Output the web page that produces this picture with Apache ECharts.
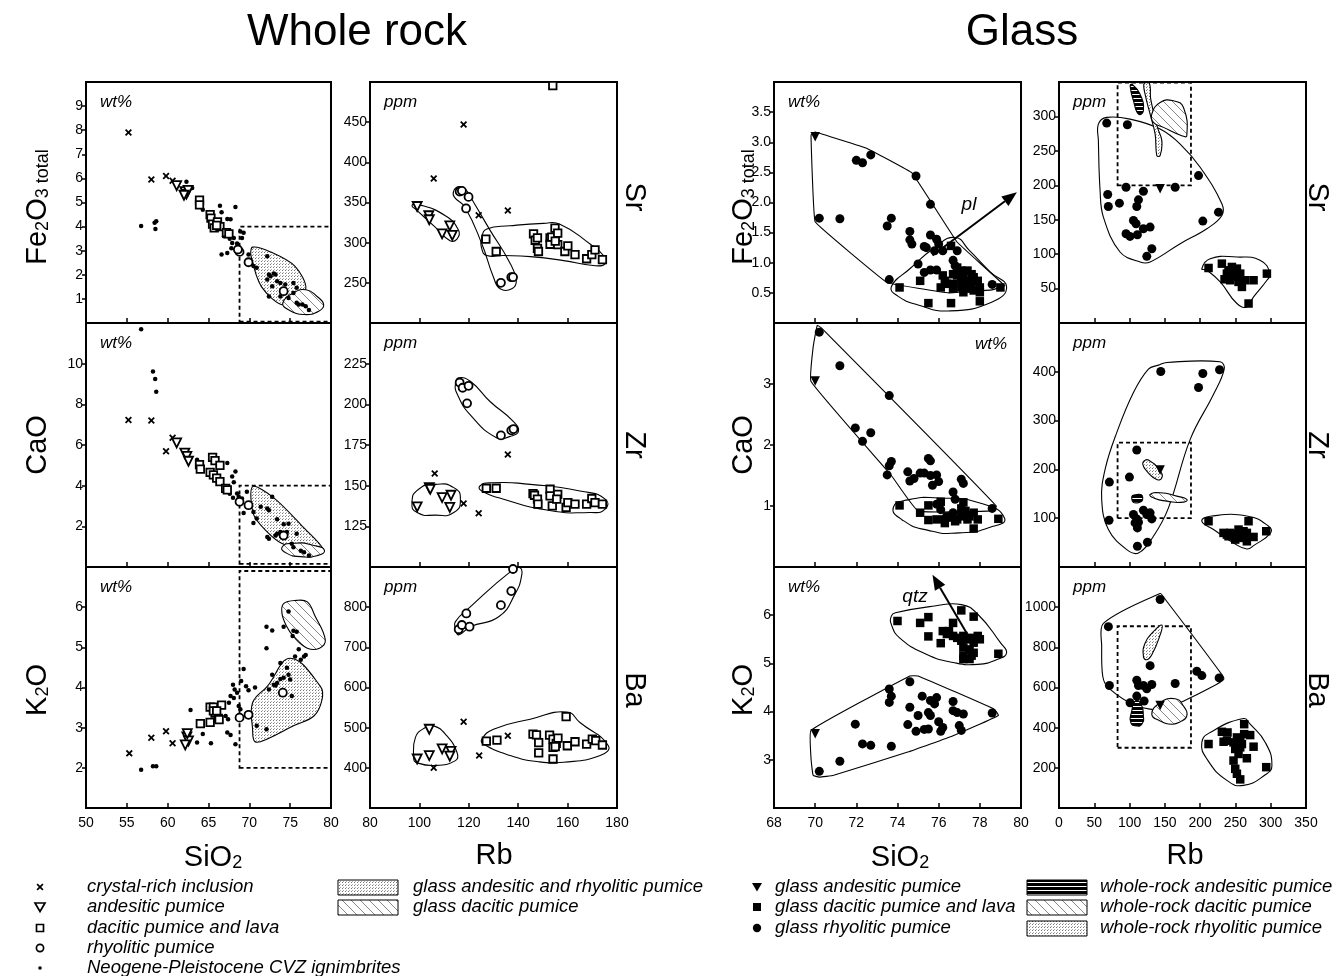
<!DOCTYPE html>
<html>
<head>
<meta charset="utf-8">
<title>Whole rock / Glass</title>
<script src="https://cdn.jsdelivr.net/npm/echarts@6/dist/echarts.min.js"></script>
<style>html,body{margin:0;background:#fff}#chart{width:1343px;height:976px}</style>
</head>
<body>
<div id="chart"></div>
<script>
// ---- whole rock, oxide vs SiO2 ----
const feSiCross = [[55.2,7.9],[58.0,5.95],[59.8,6.1],[60.6,5.9]];
const feSiTri = [[61.1,5.7],[62.1,5.45],[62.3,5.35],[62.5,5.5],[62.0,5.3]];
const feSiSq = [[63.9,5.1],[63.9,4.9],[65.2,4.5],[65.3,4.35],[65.5,4.1],[65.7,3.95],[66.1,4.2],[66.4,4.0],[67.2,3.75],[67.5,3.7],[66.0,4.05]];
const feSiCirc = [[68.8,2.95],[68.6,3.05],[69.9,2.52],[74.2,1.32]];
const feSiDot = [[56.75,4.02],[58.4,4.16],[58.6,4.22],[58.5,3.9],[62.3,5.86],[63.0,5.6],[64.3,4.7],[66.4,4.87],[66.6,4.6],[67.3,4.32],[67.7,4.3],[68.3,4.81],[67.3,2.9],[67.9,3.32],[68.1,3.53],[68.9,3.8],[69.3,3.74],[69.1,3.53],[69.9,2.84],[70.5,2.36],[70.9,2.29],[72.2,2.77],[72.4,2.01],[72.6,1.94],[73.0,2.05],[73.2,2.01],[72.2,1.8],[72.8,1.52],[73.4,1.73],[73.8,1.66],[74.4,1.6],[75.4,1.66],[75.8,1.46],[75.4,1.25],[74.8,1.04],[73.8,1.1],[72.4,1.1],[75.8,0.84],[76.05,0.77],[76.5,0.77],[76.9,0.7],[77.3,0.54],[66.6,2.84],[67.8,3.1],[68.5,3.3],[66.9,3.6],[67.6,3.5]];
const feSiStip = [[70.4,3.15],[72.6,2.95],[75.6,2.35],[76.9,1.4],[74.2,0.75],[71.5,1.5],[70.2,2.8]];
const feSiHatch = [[74.1,0.83],[75.4,1.25],[76.95,1.38],[78.3,1.1],[79.1,0.76],[78.5,0.49],[76.7,0.35],[74.8,0.55]];
const feSiBox = [[68.8,0.06],[80,0.06],[80,4],[68.8,4]];

const caSiCross = [[55.2,7.23],[58.0,7.21],[59.8,5.69],[60.6,6.36]];
const caSiTri = [[61.1,6.1],[62.1,5.6],[62.35,5.44],[62.55,5.2]];
const caSiSq = [[63.9,5.03],[64.0,4.81],[65.5,5.39],[65.8,5.23],[66.4,5.0],[65.2,4.65],[65.6,4.53],[66.0,4.37],[66.4,4.2],[67.1,3.87],[67.3,3.79]];
const caSiCirc = [[68.8,3.21],[69.9,3.04],[74.2,1.55]];
const caSiDot = [[56.75,11.69],[58.2,9.62],[58.47,9.25],[58.6,8.62],[63.6,5.28],[67.3,5.11],[68.3,4.7],[67.9,4.45],[68.1,4.17],[66.6,4.12],[68.5,3.62],[68.7,3.46],[69.1,3.37],[69.3,2.66],[70.5,2.16],[69.7,3.7],[70.5,2.71],[71.4,2.96],[72.2,2.88],[72.4,2.79],[72.8,3.45],[72.2,1.47],[72.4,1.39],[73.2,1.55],[73.4,1.63],[73.8,1.72],[74.2,2.1],[74.8,2.13],[74.6,1.72],[75.2,1.14],[75.8,1.63],[75.4,0.97],[76.3,0.8],[76.7,0.72],[77.3,0.56],[73.4,2.35],[70.9,2.38],[67.6,3.6],[68.0,3.4]];
const caSiStip = [[70.4,3.95],[73.0,3.4],[76.5,2.0],[79.0,0.9],[77.5,0.8],[74.0,1.15],[72.0,1.8],[70.5,2.6]];
const caSiHatch = [[74.0,0.97],[75.4,1.17],[77.9,1.06],[79.2,0.81],[78.3,0.56],[76.3,0.51],[74.6,0.67]];
const caSiBox = [[68.8,0.15],[80,0.15],[80,4],[68.8,4]];

const kSiCross = [[55.3,2.36],[58.0,2.75],[59.8,2.91],[60.6,2.61]];
const kSiTri = [[62.35,2.77],[62.55,2.67],[62.15,2.57],[62.4,2.85]];
const kSiSq = [[64.0,3.1],[65.2,3.13],[65.2,3.51],[65.6,3.51],[65.8,3.36],[66.2,3.23],[66.6,3.56],[65.6,3.42],[66.0,3.42],[66.3,3.2]];
const kSiCirc = [[68.8,3.25],[69.9,3.32],[74.1,3.87]];
const kSiDot = [[56.75,1.95],[58.2,2.04],[58.6,2.04],[62.8,3.44],[63.6,2.63],[64.3,2.84],[65.3,2.61],[67.3,2.88],[67.7,2.82],[68.3,2.59],[68.0,4.07],[68.2,3.95],[67.7,3.79],[67.5,3.62],[68.1,3.74],[68.5,3.87],[68.7,3.54],[68.9,3.46],[67.1,3.29],[67.4,3.21],[69.3,4.46],[69.0,4.16],[69.6,4.03],[69.9,3.93],[70.7,4.0],[70.9,3.05],[72.1,2.96],[72.1,5.51],[72.8,5.42],[72.1,4.98],[74.2,5.51],[74.8,5.89],[75.4,5.41],[75.8,5.39],[75.3,5.28],[76.05,4.95],[75.6,4.77],[76.3,4.69],[76.7,4.77],[76.9,4.81],[73.8,4.61],[72.8,4.32],[73.0,4.07],[73.4,4.11],[73.8,4.21],[74.2,4.24],[74.6,4.49],[74.8,4.32],[75.0,4.2],[75.2,3.79],[73.2,4.05],[72.4,3.95]];
const kSiStip = [[75.0,4.73],[78.7,4.03],[78.9,3.7],[77.9,3.29],[75.4,3.05],[72.2,2.72],[70.7,2.65],[70.4,2.96],[70.4,3.62],[72.2,4.03]];
const kSiHatch = [[74.2,6.09],[75.8,6.17],[77.1,6.13],[78.0,5.8],[79.3,5.19],[78.6,4.98],[77.1,4.98],[75.4,5.27],[74.6,5.51],[74.0,5.84]];
const kSiBox = [[68.8,2],[80,2],[80,6.9],[68.8,6.9]];

// ---- whole rock, trace element vs Rb ----
const srRbCross = [[105.8,380],[117.9,447],[124.0,334],[135.8,340]];
const srRbTri = [[99.1,345],[103.8,333.5],[104.0,328.5],[109.2,311],[112.3,321],[113.3,309]];
const srRbSq = [[126.9,304.5],[131.1,289],[154.0,495.5],[146.2,311],[146.9,303],[147.8,306],[147.8,293],[148.2,289],[152.9,306],[152.9,298],[153.6,307],[154.9,318],[156.0,312],[156.0,297.5],[158.9,289],[160.1,296],[163.0,285],[167.7,280],[169.8,285],[171.1,291],[174.1,279],[155.0,302]];
const srRbCirc = [[116.3,363.6],[117.2,364.5],[119.9,357],[118.9,342.6],[133.0,250],[137.2,257],[137.9,257]];
const srRbAnd = [[97.0,346],[99.1,348],[110.5,333.5],[115.9,315],[115.2,304.5],[112.4,302.5],[106.5,319],[99.1,340]];
const srRbRhy = [[113.9,364.5],[115.9,369.8],[118.6,366.5],[122.0,350],[128.7,315],[136.1,277.7],[139.2,253],[137.4,242.6],[132.7,242.6],[130.0,257],[125.3,298.3],[118.5,343.8],[114.1,357]];
const srRbDac = [[125.3,306.6],[127.3,317],[136.7,321],[150.2,324],[156.9,323],[169.1,298.3],[174.5,284],[175.2,273.6],[170.4,271.5],[158.4,277.7],[144.9,282.6],[134.1,284],[127.3,284],[125.3,292]];

const zrRbCross = [[106.2,157.5],[117.9,139],[124.0,133.1],[135.8,169.1]];
const zrRbTri = [[99.1,137],[104.0,148.8],[104.4,147.8],[109.2,142.7],[112.8,144.1],[112.3,136.6]];
const zrRbSq = [[127.1,148.4],[131.1,148.4],[146.0,145.1],[146.6,144.1],[147.8,141.7],[148.0,138.6],[152.9,147.8],[152.9,143.7],[153.8,137.6],[156.0,144.7],[155.6,141.7],[159.4,136.6],[160.1,139.6],[163.0,138.6],[167.7,138.6],[169.8,142.1],[171.1,139.6],[174.1,138.6]];
const zrRbCirc = [[116.3,213.4],[117.5,210.2],[119.9,211.4],[119.3,200.6],[133.0,180.9],[137.2,184],[138.1,184.8]];
const zrRbAnd = [[97,139.6],[99.7,147.8],[106.5,150.8],[113.9,148.8],[116.6,141.7],[113.9,133.5],[106.5,131.9],[99.1,133.5]];
const zrRbRhy = [[114.6,212.8],[115.9,216.3],[120.6,214.2],[128.7,201.6],[138.1,189.4],[140.1,183.3],[136.7,180.3],[131.4,179.3],[120.6,193.5],[115.2,206.7]];
const zrRbDac = [[124.5,149.8],[129.2,151.8],[144.9,150.8],[165.0,146.7],[175.2,141.7],[175.2,135.6],[169.1,133.5],[151.6,135],[134.1,141.7],[125.3,146.7]];

const baRbCross = [[105.8,400],[117.9,515],[124.2,430.5],[135.8,480]];
const baRbTri = [[99.1,422],[104.0,496],[104.0,430.5],[109.2,447],[112.8,441],[112.3,429]];
const baRbSq = [[127.1,466.7],[131.4,469],[146.0,484],[147.4,482],[148.3,463],[148.3,437],[152.7,481.5],[154.1,471.6],[154.1,451],[154.1,422],[155.4,461],[156.1,474],[155.0,452.7],[159.4,527.6],[159.9,455],[163.0,465],[167.7,459],[170.0,471.6],[171.4,467.5],[174.1,456.8]];
const baRbCirc = [[115.9,745],[117.2,755.6],[120.3,751.4],[119.0,784.4],[133.0,805],[137.2,840],[137.9,895]];
const baRbAnd = [[97.7,422],[98.4,475.7],[102.4,500.4],[105.8,504.5],[110.5,484],[115.2,438.7],[114.6,418],[105.8,405.8],[98.4,414]];
const baRbRhy = [[114.6,747],[114.6,764],[120.6,800.8],[137.4,891],[140.8,898],[141.4,879],[138.8,833.7],[132.1,776],[120.6,751.4],[115.9,731]];
const baRbDac = [[125.3,471.6],[130.0,496.3],[144.9,521],[159.7,539],[165.0,512.8],[176.5,455],[173.2,430.5],[158.4,414],[147.6,415.6],[136.8,430.5],[125.9,459.3]];

// ---- glass, oxide vs SiO2 ----
const gFeTri = [[70.0,3.09]];
const gFeCirc = [[70.2,1.74],[71.2,1.73],[72.0,2.70],[72.3,2.66],[72.7,2.79],[74.9,2.44],[75.6,1.97],[73.7,1.74],[73.5,1.61],[74.6,1.52],[74.6,1.38],[74.7,1.31],[75.3,1.27],[75.4,1.25],[75.6,1.46],[75.9,1.39],[76.0,1.31],[75.8,1.2],[76.2,1.2],[76.9,1.2],[75.0,0.98],[75.3,0.84],[75.6,0.88],[75.9,0.88],[76.7,1.04],[76.8,0.95],[73.6,0.72],[78.6,0.64]];
const gFeSq = [[76.6,1.28],[74.1,0.59],[75.1,0.7],[75.5,0.33],[76.6,0.33],[78.0,0.36],[79.0,0.59],[76.9,0.92],[77.1,0.87],[77.2,0.81],[77.4,0.87],[77.6,0.81],[77.7,0.76],[77.9,0.7],[77.4,0.7],[77.1,0.7],[76.7,0.65],[76.4,0.65],[76.1,0.59],[76.3,0.7],[77.1,0.59],[77.4,0.57],[77.7,0.54],[78.0,0.59],[76.7,0.57],[76.2,0.79],[76.9,0.79],[77.6,0.65],[78.0,0.51],[77.2,0.51],[76.7,0.81]];
const gFeRhy = [[69.8,3.12],[70.0,3.17],[72.5,2.9],[74.7,2.49],[76.9,1.34],[79.2,0.62],[78.6,0.55],[76.5,0.5],[73.5,0.67],[70.0,1.68]];
const gFeDac = [[73.7,0.6],[74.6,0.9],[75.8,1.25],[76.8,1.42],[77.5,1.2],[78.5,0.85],[79.3,0.6],[78.6,0.35],[76.5,0.2],[75.0,0.3],[74.0,0.45]];
const plArrow = [[75.7,1.12],[79.8,2.17]];

const gCaTri = [[70.0,3.05]];
const gCaCirc = [[70.2,3.85],[71.2,3.30],[73.6,2.81],[71.95,2.28],[72.3,2.06],[72.7,2.2],[73.7,1.73],[73.6,1.66],[73.5,1.51],[74.5,1.56],[74.6,1.41],[74.8,1.45],[75.1,1.54],[75.3,1.54],[75.5,1.78],[75.6,1.74],[75.6,1.5],[75.9,1.51],[76.0,1.4],[75.7,1.34],[77.1,1.44],[77.2,1.37],[76.7,1.23],[76.8,1.11],[76.1,0.94],[76.2,0.78],[76.7,0.89],[78.6,0.96],[75.9,1.03]];
const gCaSq = [[74.1,1.01],[75.1,0.89],[75.5,1.01],[75.5,0.77],[76.1,1.07],[75.9,0.78],[76.4,0.83],[77.1,0.96],[77.2,1.06],[77.3,0.92],[77.5,0.83],[77.7,0.89],[77.9,0.78],[77.4,0.78],[76.9,0.78],[76.6,0.81],[77.7,0.63],[78.9,0.79],[77.1,0.83],[76.8,0.75],[76.3,0.72]];
const gCaRhy = [[70.1,3.96],[70.3,3.92],[78.8,1.0],[78.5,0.92],[75.0,0.92],[73.7,1.5],[69.8,3.04],[69.9,3.6]];
const gCaDac = [[73.8,0.98],[74.5,1.1],[76,1.13],[78,1.05],[79.2,0.8],[78.5,0.65],[77,0.56],[75.5,0.6],[74.2,0.78]];

const gKTri = [[70.0,3.54]];
const gKCirc = [[70.2,2.76],[71.2,2.97],[71.95,3.74],[72.3,3.33],[72.7,3.30],[73.7,3.28],[73.6,4.47],[73.7,4.32],[73.6,4.19],[74.6,4.62],[74.5,3.73],[74.6,4.09],[74.9,3.59],[75.0,3.92],[75.2,4.32],[75.3,3.63],[75.5,3.64],[75.5,3.98],[75.6,3.92],[75.6,4.23],[75.8,4.16],[75.9,4.29],[76.0,3.79],[76.1,3.59],[76.2,3.67],[76.7,4.21],[76.7,4.02],[76.9,3.98],[77.0,3.71],[77.1,3.61],[77.2,3.95],[78.6,3.97]];
const gKSq = [[74.0,5.88],[75.1,5.84],[75.5,5.96],[75.5,5.56],[76.1,5.42],[76.2,5.67],[76.5,5.67],[76.7,5.84],[77.1,6.1],[77.7,5.97],[76.7,5.57],[76.9,5.53],[77.1,5.47],[77.2,5.57],[77.4,5.5],[77.6,5.53],[77.7,5.43],[77.9,5.57],[78.0,5.5],[77.2,5.33],[77.5,5.29],[77.2,5.16],[77.6,5.16],[77.7,5.22],[77.2,5.09],[77.5,5.09],[78.9,5.2],[76.4,5.61]];
const gKRhy = [[69.8,3.61],[74.6,4.74],[75.0,4.74],[78.7,4.05],[78.9,3.92],[76.7,3.5],[74.5,3.16],[70.9,2.68],[70.2,2.64],[69.9,2.68],[69.8,3.02]];
const gKDac = [[73.7,5.98],[73.9,6.05],[75.8,6.19],[77.1,6.22],[77.9,6.02],[79.0,5.43],[79.3,5.22],[78.9,5.09],[77.9,4.98],[76.7,5.02],[75.4,5.19],[74.1,5.53],[73.7,5.81]];
const qtzArrow = [[77.4,5.6],[75.7,6.84]];

// ---- glass, trace element vs Rb ----
const gSrTri = [[143.3,194.8]];
const gSrCirc = [[67.6,290.3],[96.9,287.9],[69.0,186.6],[69.9,169.2],[85.6,174],[95.0,197.2],[112.6,178.9],[110.2,169.2],[105.5,148.9],[109.2,144.1],[95.0,129.6],[100.6,125.8],[111.1,128.2],[119.6,136.9],[129.1,139.3],[131.5,107.9],[124.4,96.8],[119.6,191.4],[164.6,197.2],[197.7,214.1],[203.8,148],[226.0,161]];
const gSrSq = [[211.9,79.9],[230.8,86.2],[234.6,63.5],[240.2,76.5],[245.0,81.4],[249.7,74.1],[252.1,69.3],[256.8,71.7],[247.3,66.9],[254.4,59.7],[263.9,62.1],[275.7,62.1],[294.6,71.7],[268.6,28.3],[237.9,71.7],[242.6,62.1],[259.2,52.4],[252.1,79]];
const gSrRhy = [[55.8,288.9],[67.6,298.6],[100.7,296.1],[143.3,281.7],[171.7,259.9],[200.0,226.2],[230.8,173.1],[230.8,156.2],[209.5,136.9],[171.7,115.2],[129.1,88.6],[114.9,88.6],[86.5,103.1],[62.9,153.8],[58.2,192.4],[55.8,264.8]];
const gSrDac = [[202.4,79],[214.2,93.4],[252.1,95.8],[284.8,91],[299.3,71.7],[294.6,62.1],[275.7,37.9],[266.2,23.4],[252.1,28.3],[228.4,59.7],[209.5,76.5]];
const gSrBox = [[83,200],[187,200],[187,349],[83,349]];
const gSrWrAnd = [[103.1,346.8],[114.9,332.3],[119.6,308.2],[112.6,303.4],[105.5,322.7],[100.8,344.4]];
const gSrWrRhy = [[120.6,347.8],[128.2,347.8],[130.0,325.1],[139.5,284.1],[145.7,264.8],[143.3,243.1],[138.6,243.1],[136.2,274.5],[129.1,303.4],[122.0,332.3]];
const gSrWrDac = [[131.5,303.4],[143.3,320.3],[162.2,322.7],[176.4,313],[181.1,272],[174.0,272],[148.0,284.1],[133.8,291.3]];

const gZrTri = [[143.3,198.6]];
const gZrCirc = [[144.2,400.7],[203.8,396.6],[227.5,404.1],[197.7,367.8],[110.2,239.7],[71.4,174],[99.8,184.2],[70.9,95.9],[111.1,80.1],[125.3,50.7],[111.1,42.5],[110.2,98.6],[119.6,116.4],[124.4,107.5],[131.5,98.6],[129.1,111],[107.8,90.4],[105.5,107.5],[112.6,91.8]];
const gZrSq = [[211.9,93.8],[268.6,93.8],[293.7,73.3],[233.1,69.9],[237.9,66.4],[242.6,69.9],[247.3,66.4],[252.1,63],[256.8,69.9],[261.5,73.3],[266.2,69.9],[249.7,56.2],[259.2,59.6],[266.2,52.7],[275.7,61.6],[254.4,76.7],[240.2,63]];
const gZrRhy = [[140.9,413.7],[152.8,419.2],[228.4,420.5],[234.1,405.5],[219.0,354.1],[185.9,261.6],[155.1,121.2],[133.8,63],[112.6,28.8],[96.0,35.6],[70.0,76.7],[60.5,138.4],[65.3,200],[81.8,275.3],[105.5,357.5],[126.7,405.5]];
const gZrDac = [[202.4,93.8],[214.2,104.1],[267.6,104.1],[297.0,83.6],[299.9,69.9],[275.7,43.8],[266.2,37],[247.3,49.3],[219,76.7]];
const gZrBox = [[83,100],[187,100],[187,255],[83,255]];
const gZrWrRhy = [[120.6,217.1],[126.7,219.2],[143.3,196.6],[145.7,182.9],[138.6,179.5],[124.4,196.6],[118.7,210.3]];
const gZrWrDac = [[129.1,148.6],[143.3,152.1],[166.9,145.2],[181.1,138.4],[176.4,132.9],[152.8,134.9],[133.8,141.8]];
const gZrWrAnd = [[103.1,140.4],[110.2,148.6],[118.7,142.5],[111.1,131.5]];

const gBaTri = [[143.3,510]];
const gBaCirc = [[143.3,1038],[70.0,903],[71.4,610],[129.1,708.6],[110.2,636.2],[112.6,610],[119.6,610],[124.4,593.4],[131.5,614.8],[164.6,619.8],[195.3,680.7],[202.4,659.3],[226.9,647.7],[110.2,557.2],[100.7,524.3],[120.6,532.5]];
const gBaSq = [[230.8,379.4],[238.8,376.1],[233.2,330],[247.3,326.7],[252.1,351.4],[256.8,343.2],[262.4,367.9],[270.9,363],[275.7,305.3],[256.8,302.1],[249.7,293.8],[254.4,269.1],[247.3,236.2],[266.2,247.7],[249.7,195.1],[252.1,170.4],[256.8,142.4],[293.7,203.3],[262.4,417.3],[211.9,318.5],[237.9,335],[249.7,318.5],[259.2,318.5]];
const gBaRhy = [[62.9,919.3],[143.3,1067.5],[148.0,1051],[230.8,664.2],[233.2,639.5],[209.5,590.1],[181.1,540.7],[148,491.4],[110.2,507.8],[70.0,598.4],[62.0,656],[60.5,804.1]];
const gBaDac = [[202.4,326.7],[214.2,376.1],[261.5,445.3],[270.9,417.3],[292.3,326.7],[301.7,211.5],[292.3,165.4],[261.5,112.8],[237.9,137.4],[209.5,244.4]];
const gBaBox = [[83,300],[187,300],[187,905],[83,905]];
const gBaWrRhy = [[145.7,911.1],[143.3,861.7],[131.5,763],[124.4,738.3],[119.6,754.7],[121.9,820.6],[133.8,878.2]];
const gBaWrDac = [[131.5,466.7],[143.3,524.3],[164.6,544],[176.4,507.8],[181.1,458.4],[171.7,428.8],[159.9,417.3],[143.3,433.7]];
const gBaWrAnd = [[103.1,483.1],[107.8,532.5],[114.9,524.3],[119.6,458.4],[117.3,417.3],[110.2,409.1],[101.7,425.5]];

// ---- axes ----
const xTicks = [[50,80,5],[80,180,20],[68,80,2],[0,350,50]];
const yTicks = [
  [[0,10,1],[200,500,50],[0,4,0.5],[0,350,50]],
  [[0,12,2],[100,250,25],[0,4,1],[0,500,100]],
  [[1,7,1],[300,900,100],[2,7,1],[0,1200,200]]
];
const legendLeft = ['crystal-rich inclusion','andesitic pumice','dacitic pumice and lava','rhyolitic pumice','Neogene-Pleistocene CVZ ignimbrites'];
const legendMid = ['glass andesitic and rhyolitic pumice','glass dacitic pumice'];
const legendGlass = ['glass andesitic pumice','glass dacitic pumice and lava','glass rhyolitic pumice'];
const legendWr = ['whole-rock andesitic pumice','whole-rock dacitic pumice','whole-rock rhyolitic pumice'];

const FONT = '"Liberation Sans", Arial, Helvetica, sans-serif';
const cols = [{left:86,width:245},{left:370,width:247},{left:774,width:247},{left:1059,width:247}];
const rows = [{top:82,height:241},{top:323,height:244},{top:567,height:241}];

// fill patterns
function makePattern(kind) {
  const c = document.createElement('canvas');
  const ctx = c.getContext('2d');
  if (kind === 'stip') {
    c.width = 3; c.height = 3;
    ctx.fillStyle = '#fff'; ctx.fillRect(0,0,3,3);
    ctx.fillStyle = '#777'; ctx.fillRect(0,0,1,1);
    ctx.fillStyle = '#aaa'; ctx.fillRect(1,2,1,1);
  } else if (kind === 'hatch') {
    c.width = 9; c.height = 9;
    ctx.fillStyle = '#fff'; ctx.fillRect(0,0,9,9);
    ctx.strokeStyle = '#888'; ctx.lineWidth = 1;
    ctx.beginPath(); ctx.moveTo(0,0); ctx.lineTo(9,9); ctx.stroke();
  } else {
    c.width = 4; c.height = 4;
    ctx.fillStyle = '#000'; ctx.fillRect(0,0,4,4);
    ctx.fillStyle = '#fff'; ctx.fillRect(0,2,4,1);
  }
  return {image: c, repeat: 'repeat'};
}
const PAT = {stip: makePattern('stip'), hatch: makePattern('hatch'), horiz: makePattern('horiz'), none: 'none'};

const MARK = {
  cross: {symbol:'path://M0,1.8L1.8,0L5,3.2L8.2,0L10,1.8L6.8,5L10,8.2L8.2,10L5,6.8L1.8,10L0,8.2L3.2,5Z', symbolSize:7, itemStyle:{color:'#000', opacity:1}},
  triO: {symbol:'triangle', symbolRotate:180, symbolSize:9, itemStyle:{color:'#fff', borderColor:'#000', borderWidth:1.8, opacity:1}},
  sqO: {symbol:'rect', symbolSize:7.5, itemStyle:{color:'#fff', borderColor:'#000', borderWidth:1.8, opacity:1}},
  circO: {symbol:'circle', symbolSize:8, itemStyle:{color:'#fff', borderColor:'#000', borderWidth:1.8, opacity:1}},
  dot: {symbol:'circle', symbolSize:4.5, itemStyle:{color:'#000', opacity:1}},
  triF: {symbol:'triangle', symbolRotate:180, symbolSize:9.5, itemStyle:{color:'#000', opacity:1}},
  sqF: {symbol:'rect', symbolSize:8.5, itemStyle:{color:'#000', opacity:1}},
  circF: {symbol:'circle', symbolSize:9, itemStyle:{color:'#000', opacity:1}}
};

// panel contents: [row, col, point sets, fields, arrow]
const panels = [
  [0,0,[['dot',feSiDot],['cross',feSiCross],['triO',feSiTri],['sqO',feSiSq],['circO',feSiCirc]],
    [[feSiStip,'stip',0.3],[feSiHatch,'hatch',0.5],[feSiBox,'none',0,true]]],
  [1,0,[['dot',caSiDot],['cross',caSiCross],['triO',caSiTri],['sqO',caSiSq],['circO',caSiCirc]],
    [[caSiStip,'stip',0.3],[caSiHatch,'hatch',0.6],[caSiBox,'none',0,true]]],
  [2,0,[['dot',kSiDot],['cross',kSiCross],['triO',kSiTri],['sqO',kSiSq],['circO',kSiCirc]],
    [[kSiStip,'stip',0.4],[kSiHatch,'hatch',0.4],[kSiBox,'none',0,true]]],
  [0,1,[['cross',srRbCross],['triO',srRbTri],['sqO',srRbSq],['circO',srRbCirc]],
    [[srRbAnd,'none',0.5],[srRbRhy,'none',0.5],[srRbDac,'none',0.5]]],
  [1,1,[['cross',zrRbCross],['triO',zrRbTri],['sqO',zrRbSq],['circO',zrRbCirc]],
    [[zrRbAnd,'none',0.6],[zrRbRhy,'none',0.5],[zrRbDac,'none',0.6]]],
  [2,1,[['cross',baRbCross],['triO',baRbTri],['sqO',baRbSq],['circO',baRbCirc]],
    [[baRbAnd,'none',0.5],[baRbRhy,'none',0.5],[baRbDac,'none',0.5]]],
  [0,2,[['circF',gFeCirc],['sqF',gFeSq],['triF',gFeTri]],
    [[gFeRhy,'none',0.05],[gFeDac,'none',0.5]], plArrow],
  [1,2,[['circF',gCaCirc],['sqF',gCaSq],['triF',gCaTri]],
    [[gCaRhy,'none',0.1],[gCaDac,'none',0.6]]],
  [2,2,[['circF',gKCirc],['sqF',gKSq],['triF',gKTri]],
    [[gKRhy,'none',0.1],[gKDac,'none',0.5]], qtzArrow],
  [0,3,[['circF',gSrCirc],['sqF',gSrSq],['triF',gSrTri]],
    [[gSrRhy,'none',0.4],[gSrDac,'none',0.5],[gSrBox,'none',0,true],[gSrWrAnd,'horiz',0.5],[gSrWrRhy,'stip',0.4],[gSrWrDac,'hatch',0.5]]],
  [1,3,[['circF',gZrCirc],['sqF',gZrSq],['triF',gZrTri]],
    [[gZrRhy,'none',0.4],[gZrDac,'none',0.5],[gZrBox,'none',0,true],[gZrWrRhy,'stip',0.6],[gZrWrDac,'hatch',0.6],[gZrWrAnd,'horiz',0.8]]],
  [2,3,[['circF',gBaCirc],['sqF',gBaSq],['triF',gBaTri]],
    [[gBaRhy,'none',0.3],[gBaDac,'none',0.5],[gBaBox,'none',0,true],[gBaWrRhy,'stip',0.5],[gBaWrDac,'hatch',0.5],[gBaWrAnd,'horiz',0.6]]]
];

const grid = [], xAxis = [], yAxis = [], series = [];
for (let r = 0; r < 3; r++) {
  for (let c = 0; c < 4; c++) {
    const gi = r * 4 + c;
    grid.push({left: cols[c].left, width: cols[c].width, top: rows[r].top, height: rows[r].height,
      show: true, borderColor: '#000', borderWidth: 2});
    const [xmin, xmax, xint] = xTicks[c];
    xAxis.push({gridIndex: gi, type: 'value', min: xmin, max: xmax, interval: xint,
      axisLine: {lineStyle: {color: '#000', width: 2}},
      axisTick: {inside: true, length: 5, lineStyle: {color: '#000', width: 1.5}},
      axisLabel: {show: r === 2, color: '#000', fontSize: 14, fontFamily: FONT, margin: 8},
      splitLine: {show: false}});
    const [ymin, ymax, yint] = yTicks[r][c];
    yAxis.push({gridIndex: gi, type: 'value', min: ymin, max: ymax, interval: yint,
      axisLine: {lineStyle: {color: '#000', width: 2}},
      axisTick: {inside: false, length: 4, lineStyle: {color: '#000', width: 1.5}},
      axisLabel: {color: '#000', fontSize: 14, fontFamily: FONT, margin: 3,
        showMinLabel: false, showMaxLabel: false,
        formatter: yint === 0.5 ? (v => v.toFixed(1)) : (v => String(v))},
      splitLine: {show: false}});
  }
}

function fieldSeries(gi, pts, fillKind, smooth, dashed) {
  return {type: 'custom', xAxisIndex: gi, yAxisIndex: gi, z: 2, silent: true, clip: true,
    data: [pts[0]],
    renderItem: (params, api) => ({
      type: 'polygon',
      shape: {points: pts.map(p => api.coord(p)), smooth: smooth || 0},
      style: {fill: PAT[fillKind], stroke: '#000', lineWidth: dashed ? 1.8 : 1.1,
        lineDash: dashed ? [4, 3] : null}
    })};
}

function arrowSeries(gi, arr) {
  return {type: 'custom', xAxisIndex: gi, yAxisIndex: gi, z: 4, silent: true,
    data: [arr[0]],
    renderItem: (params, api) => {
      const a = api.coord(arr[0]), b = api.coord(arr[1]);
      const ang = Math.atan2(b[1] - a[1], b[0] - a[0]);
      const L = 15, W = 6;
      const base = [b[0] - L * Math.cos(ang), b[1] - L * Math.sin(ang)];
      const p1 = [base[0] + W * Math.sin(ang), base[1] - W * Math.cos(ang)];
      const p2 = [base[0] - W * Math.sin(ang), base[1] + W * Math.cos(ang)];
      return {type: 'group', children: [
        {type: 'line', shape: {x1: a[0], y1: a[1], x2: base[0], y2: base[1]}, style: {stroke: '#000', lineWidth: 2}},
        {type: 'polygon', shape: {points: [b, p1, p2]}, style: {fill: '#000'}}
      ]};
    }};
}

panels.forEach(([r, c, pointSets, fields, arrow]) => {
  const gi = r * 4 + c;
  fields.forEach(([pts, fill, smooth, dashed]) => series.push(fieldSeries(gi, pts, fill, smooth, dashed)));
  pointSets.forEach(([kind, data]) => {
    series.push(Object.assign({type: 'scatter', xAxisIndex: gi, yAxisIndex: gi, z: 3, silent: true, data: data},
      JSON.parse(JSON.stringify(MARK[kind]))));
  });
  if (arrow) series.push(arrowSeries(gi, arrow));
});

// ---- texts ----
const graphic = [];
function txt(x, y, text, opts) {
  graphic.push(Object.assign({type: 'text', x: x, y: y, silent: true,
    style: Object.assign({text: text, fill: '#000', font: '18px ' + FONT, align: 'left', verticalAlign: 'middle'}, opts && opts.style || {})},
    opts && opts.rotation !== undefined ? {rotation: opts.rotation} : {}));
}
function chem(x, y, parts, rotation) {
  graphic.push({type: 'text', x: x, y: y, rotation: rotation || 0, silent: true,
    style: {text: parts.map(p => '{' + p[1] + '|' + p[0] + '}').join(''),
      align: 'center', verticalAlign: 'middle', fill: '#000',
      rich: {
        m: {fontSize: 29, fontFamily: FONT, lineHeight: 48, verticalAlign: 'bottom', fill: '#000'},
        s: {fontSize: 18, fontFamily: FONT, lineHeight: 16, verticalAlign: 'bottom', fill: '#000'}
      }}});
}
txt(357, 33, 'Whole rock', {style: {font: '44px ' + FONT, align: 'center'}});
txt(1022, 33, 'Glass', {style: {font: '44px ' + FONT, align: 'center'}});

const FE = [['Fe','m'],['2','s'],['O','m'],['3 total','s']];
const CAO = [['CaO','m']];
const K2O = [['K','m'],['2','s'],['O','m']];
const SIO2 = [['SiO','m'],['2','s']];
[28, 734].forEach(x => {
  chem(x, 207, FE, Math.PI / 2);
  chem(x, 445, CAO, Math.PI / 2);
  chem(x, 690, K2O, Math.PI / 2);
});
[643, 1326].forEach(x => {
  chem(x, 197, [['Sr','m']], -Math.PI / 2);
  chem(x, 445, [['Zr','m']], -Math.PI / 2);
  chem(x, 690, [['Ba','m']], -Math.PI / 2);
});
chem(213, 848, SIO2, 0);
chem(494, 846, [['Rb','m']], 0);
chem(900, 848, SIO2, 0);
chem(1185, 846, [['Rb','m']], 0);

// unit labels
const unitStyle = {font: 'italic 17px ' + FONT};
[[0,0,'wt%'],[1,0,'wt%'],[2,0,'wt%'],[0,1,'ppm'],[1,1,'ppm'],[2,1,'ppm'],[0,2,'wt%'],[2,2,'wt%'],[0,3,'ppm'],[1,3,'ppm'],[2,3,'ppm']]
  .forEach(([r, c, t]) => txt(cols[c].left + 14, rows[r].top + 20, t, {style: unitStyle}));
txt(cols[2].left + cols[2].width - 14, rows[1].top + 21, 'wt%', {style: Object.assign({align: 'right'}, unitStyle)});
txt(969, 205, 'pl', {style: {font: 'italic 19px ' + FONT, align: 'center'}});
txt(915, 597, 'qtz', {style: {font: 'italic 19px ' + FONT, align: 'center'}});

// ---- legend ----
const legY = [887, 907, 928, 948, 968];
const legItalic = {font: 'italic 18.5px ' + FONT};
function legSym(kind, x, y) {
  const s = {stroke: '#000', lineWidth: 1.7, fill: '#fff'};
  const f = {fill: '#000'};
  if (kind === 'cross') graphic.push({type: 'polygon', silent: true, shape: {points: [[x-3.5,y-2.3],[x-2.3,y-3.5],[x,y-1.2],[x+2.3,y-3.5],[x+3.5,y-2.3],[x+1.2,y],[x+3.5,y+2.3],[x+2.3,y+3.5],[x,y+1.2],[x-2.3,y+3.5],[x-3.5,y+2.3],[x-1.2,y]]}, style: f});
  if (kind === 'triO') graphic.push({type: 'polygon', silent: true, shape: {points: [[x-5,y-4],[x+5,y-4],[x,y+4.5]]}, style: s});
  if (kind === 'sqO') graphic.push({type: 'rect', silent: true, shape: {x: x-3.5, y: y-3.5, width: 7, height: 7}, style: s});
  if (kind === 'circO') graphic.push({type: 'circle', silent: true, shape: {cx: x, cy: y, r: 3.6}, style: s});
  if (kind === 'dot') graphic.push({type: 'circle', silent: true, shape: {cx: x, cy: y, r: 1.8}, style: f});
  if (kind === 'triF') graphic.push({type: 'polygon', silent: true, shape: {points: [[x-5,y-4],[x+5,y-4],[x,y+4.5]]}, style: f});
  if (kind === 'sqF') graphic.push({type: 'rect', silent: true, shape: {x: x-4, y: y-4, width: 8, height: 8}, style: f});
  if (kind === 'circF') graphic.push({type: 'circle', silent: true, shape: {cx: x, cy: y, r: 4.2}, style: f});
}
function legBox(fillKind, x, y) {
  graphic.push({type: 'rect', silent: true, shape: {x: x, y: y, width: 60, height: 15},
    style: {fill: PAT[fillKind], stroke: '#000', lineWidth: 1}});
}
['cross','triO','sqO','circO','dot'].forEach((k, i) => {
  legSym(k, 40, legY[i]);
  txt(87, legY[i], legendLeft[i], {style: legItalic});
});
['stip','hatch'].forEach((k, i) => {
  legBox(k, 338, legY[i] - 7);
  txt(413, legY[i], legendMid[i], {style: legItalic});
});
['triF','sqF','circF'].forEach((k, i) => {
  legSym(k, 757, legY[i]);
  txt(775, legY[i], legendGlass[i], {style: legItalic});
});
['horiz','hatch','stip'].forEach((k, i) => {
  legBox(k, 1027, legY[i] - 7);
  txt(1100, legY[i], legendWr[i], {style: legItalic});
});

const chart = echarts.init(document.getElementById('chart'));
chart.setOption({
  animation: false,
  backgroundColor: '#fff',
  grid: grid,
  xAxis: xAxis,
  yAxis: yAxis,
  series: series,
  graphic: graphic
});
</script>
</body>
</html>
